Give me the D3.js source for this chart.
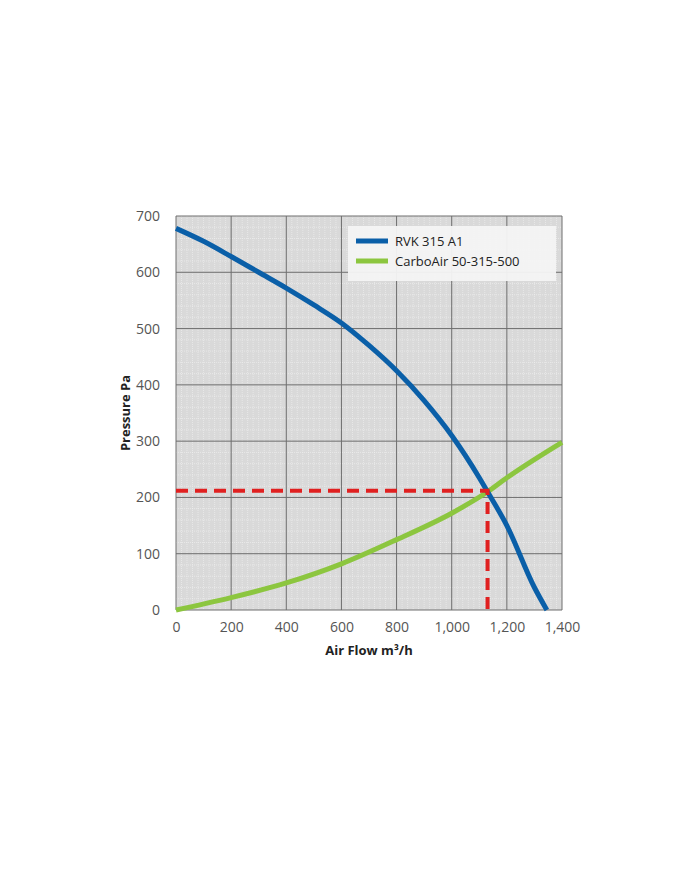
<!DOCTYPE html><html><head><meta charset="utf-8"><script src="https://cdn.jsdelivr.net/npm/d3@7"></script>
<style>body{margin:0;background:#fff;font-family:"Open Sans",sans-serif}</style></head><body><svg id="c" width="700" height="869"></svg>
<script>
const xTicks=[0,200,400,600,800,1000,1200,1400];
const yTicks=[0,100,200,300,400,500,600,700];
const fanX=[0,100,200,300,400,500,600,700,800,900,1000,1100,1130,1200,1300,1345];
const fanY=[678,655,628,600,572,542,510,470,425,372,310,235,210,150,40,0];
const filtX=[0,200,400,600,800,1000,1130,1200,1400];
const filtY=[0,22,48,82,125,172,210,235,298];
const opX=1130, opY=212;
const seriesNames=["RVK 315 A1","CarboAir 50-315-500"];
const colors=["#0a5fa8","#8cc63f"];
const svg=d3.select("#c");
const x=d3.scaleLinear().domain([0,1400]).range([176,562]);
const y=d3.scaleLinear().domain([0,700]).range([610,216]);
svg.append("rect").attr("x",176).attr("y",216).attr("width",386).attr("height",394).attr("fill","#d9d9d9");
const g=svg.append("g");
for(let v=0;v<=1400;v+=20) if(v%200) g.append("line").attr("x1",x(v)).attr("x2",x(v)).attr("y1",216).attr("y2",610).attr("stroke","#f2f2f2").attr("stroke-width",0.6).attr("stroke-dasharray","1,1");
for(let v=0;v<=700;v+=20) if(v%100) g.append("line").attr("y1",y(v)).attr("y2",y(v)).attr("x1",176).attr("x2",562).attr("stroke","#f2f2f2").attr("stroke-width",0.6).attr("stroke-dasharray","1,1");
xTicks.forEach(v=>g.append("line").attr("x1",x(v)).attr("x2",x(v)).attr("y1",216).attr("y2",610).attr("stroke","#6e6e6e").attr("stroke-width",1));
yTicks.forEach(v=>g.append("line").attr("y1",y(v)).attr("y2",y(v)).attr("x1",176).attr("x2",562).attr("stroke","#6e6e6e").attr("stroke-width",1));
svg.append("g").attr("transform","translate(0,610)").call(d3.axisBottom(x).tickValues(xTicks).tickSize(0).tickPadding(12)).call(a=>a.select(".domain").remove()).selectAll("text").attr("font-size",14).attr("fill","#555").attr("font-family","Open Sans");
svg.append("g").attr("transform","translate(176,0)").call(d3.axisLeft(y).tickValues(yTicks).tickSize(0).tickPadding(16)).call(a=>a.select(".domain").remove()).selectAll("text").attr("font-size",14).attr("fill","#555").attr("font-family","Open Sans");
svg.append("text").attr("x",369).attr("y",655).attr("text-anchor","middle").attr("font-size",13).attr("font-weight","bold").attr("fill","#222").text("Air Flow m³/h");
svg.append("text").attr("transform","translate(130,413) rotate(-90)").attr("text-anchor","middle").attr("font-size",13).attr("font-weight","bold").attr("fill","#222").text("Pressure Pa");
const line=d3.line().x(d=>x(d[0])).y(d=>y(d[1])).curve(d3.curveMonotoneX);
svg.append("path").attr("d",line(d3.zip(filtX,filtY))).attr("fill","none").attr("stroke",colors[1]).attr("stroke-width",5);
svg.append("path").attr("d",line(d3.zip(fanX,fanY))).attr("fill","none").attr("stroke",colors[0]).attr("stroke-width",5);
svg.append("path").attr("d",`M${x(0)},${y(opY)}H${x(opX)}V${y(0)}`).attr("fill","none").attr("stroke","#e02020").attr("stroke-width",4).attr("stroke-dasharray","12,7");
const lg=svg.append("g");
lg.append("rect").attr("x",348).attr("y",226).attr("width",208).attr("height",55).attr("fill","#f4f4f4").attr("opacity",0.95);
seriesNames.forEach((n,i)=>{lg.append("line").attr("x1",356).attr("x2",388).attr("y1",241+i*20).attr("y2",241+i*20).attr("stroke",colors[i]).attr("stroke-width",5);
lg.append("text").attr("x",395).attr("y",246+i*20).attr("font-size",13).attr("fill","#222").text(n);});
</script></body></html>
